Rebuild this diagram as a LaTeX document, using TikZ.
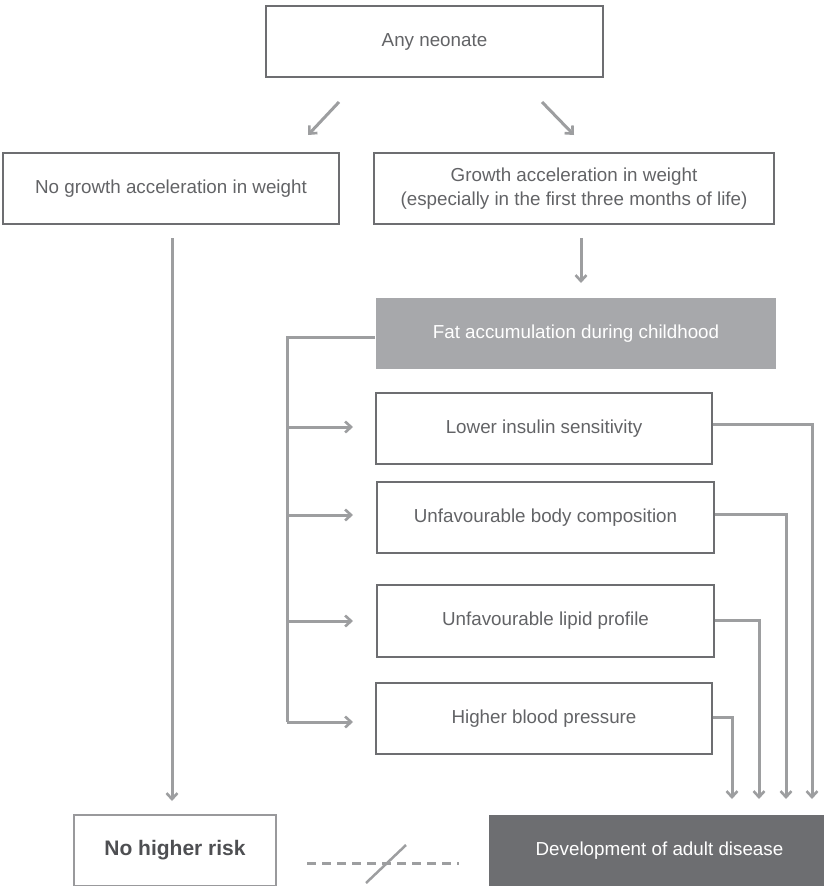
\documentclass[tikz,border=0pt]{standalone}
\usepackage{fontspec}
\setmainfont{Liberation Sans}
\usetikzlibrary{arrows.meta}
\definecolor{linegray}{HTML}{9D9EA0}
\definecolor{boxgray}{HTML}{6D6E71}
\definecolor{txtgray}{HTML}{626366}
\definecolor{fatgray}{HTML}{A7A8AB}
\definecolor{devgray}{HTML}{6D6E71}
\tikzset{
  x=1pt, y=-1pt,
  box/.style={draw=boxgray, line width=1.6pt, text=txtgray, align=center, inner sep=0pt, font=\fontsize{18.8}{24}\selectfont},
  conn/.style={draw=linegray, line width=3pt},
  arr/.style={conn, -{Straight Barb[length=6pt, width=11pt, line width=2.6pt]}},
}
\begin{document}
\begin{tikzpicture}
\useasboundingbox (0,0) rectangle (824,886);
\clip (0,0) rectangle (824,886);
% nodes
\node[box, minimum width=337, minimum height=71] (neo) at (434.5,41.5) {Any neonate};
\node[box, minimum width=336, minimum height=71] (nog) at (171,188.5) {No growth acceleration in weight};
\node[box, minimum width=400, minimum height=71] (gro) at (574,188.5) {Growth acceleration in weight\\(especially in the first three months of life)};
\node[box, draw=none, fill=fatgray, text=white, minimum width=400, minimum height=71] (fat) at (576,333.5) {Fat accumulation during childhood};
\node[box, minimum width=336, minimum height=71] (ins) at (544,428.5) {Lower insulin sensitivity};
\node[box, minimum width=337, minimum height=71] (bod) at (545.5,517.5) {Unfavourable body composition};
\node[box, minimum width=337, minimum height=72] (lip) at (545.5,621) {Unfavourable lipid profile};
\node[box, minimum width=336, minimum height=71] (bp) at (544,718.5) {Higher blood pressure};
\node[box, draw=boxgray!70, text=txtgray!80!black, font=\bfseries\fontsize{21}{25}\selectfont, minimum width=202, minimum height=71] (nhr) at (175,850.5) {No higher risk};
\node[box, draw=none, fill=devgray, text=white, minimum width=341, minimum height=71] (dev) at (659.5,850.5) {Development of adult disease};
% coordinates for free arrow ends
\coordinate (a1s) at (339,102); \coordinate (a1e) at (308,135);
\coordinate (a2s) at (542,102); \coordinate (a2e) at (574,135);
\coordinate (g1s) at (581,238); \coordinate (g1e) at (581,283);
\coordinate (n1s) at (172,238); \coordinate (n1e) at (172,801);
\coordinate (brk) at (287,337);
\coordinate (bre) at (287,722);
% connectors
\draw[arr] (a1s) -- (a1e);
\draw[arr] (a2s) -- (a2e);
\draw[arr] (g1s) -- (g1e);
\draw[arr] (n1s) -- (n1e);
\draw[conn] (fat.west |- brk) -- (brk) -- (bre);
\foreach \n/\yy in {ins/427,bod/515,lip/621,bp/722}{
  \draw[arr] (287,\yy) -- (353,\yy);
}
\draw[arr] (ins.east |- 0,424) -- (812,424) -- (812,799);
\draw[arr] (bod.east |- 0,514) -- (786,514) -- (786,799);
\draw[arr] (lip.east |- 0,620) -- (759,620) -- (759,799);
\draw[arr] (bp.east |- 0,717) -- (732,717) -- (732,799);
% no-link dashed
\coordinate (d1) at (307,863); \coordinate (d2) at (459,863);
\draw[conn, dash pattern=on 9pt off 6pt] (d1) -- (d2);
\draw[conn, line width=2.5pt] (366,883) -- (406,845);
\end{tikzpicture}
\end{document}
